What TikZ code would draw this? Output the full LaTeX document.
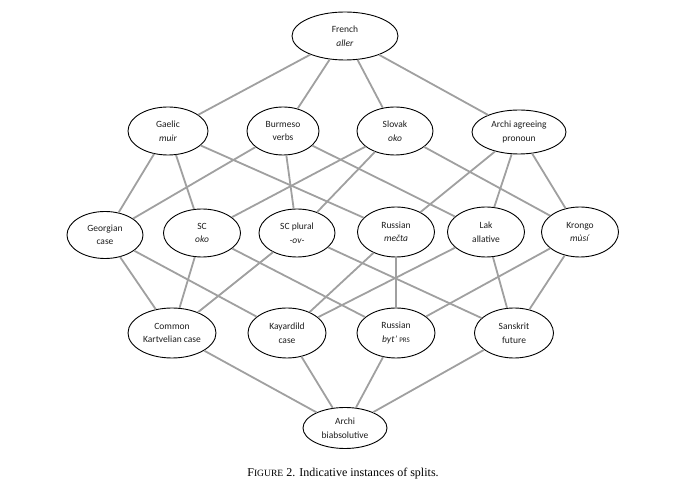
\documentclass[tikz,border=0pt]{standalone}
\usepackage{fontspec}
\setmainfont{Carlito}
\newfontfamily\capfont{Liberation Serif}
\usetikzlibrary{shapes.geometric}
\definecolor{linkgray}{RGB}{160,160,160}
\definecolor{inkc}{RGB}{30,30,30}
\begin{document}
\begin{tikzpicture}[x=1pt,y=-1pt,
  splitnode/.style={ellipse,draw=black,line width=0.9pt,fill=white,inner sep=0pt,
    align=center,font=\fontsize{9.5}{13.5}\selectfont,text=inkc},
  link/.style={draw=linkgray,line width=1.8pt},
  strong/.style={draw=linkgray,line width=2.6pt}]
\useasboundingbox (0,0) rectangle (673,494);

% top
\node[splitnode,minimum width=106pt,minimum height=48pt] (french) at (345,36) {French\\\textit{aller}};
% first level
\node[splitnode,minimum width=80pt,minimum height=48pt] (gaelic) at (168,131) {Gaelic\\\textit{muir}};
\node[splitnode,minimum width=72pt,minimum height=48pt] (burmeso) at (283,131) {Burmeso\\verbs};
\node[splitnode,minimum width=76pt,minimum height=48pt] (slovak) at (395,131) {Slovak\\\textit{oko}};
\node[splitnode,minimum width=94pt,minimum height=44pt] (archiagr) at (519,132) {Archi agreeing\\pronoun};
% second level
\node[splitnode,minimum width=76pt,minimum height=47pt] (georgian) at (105,235) {Georgian\\case};
\node[splitnode,minimum width=77pt,minimum height=48pt] (sc) at (202,233) {SC\\\textit{oko}};
\node[splitnode,minimum width=76pt,minimum height=48pt] (scpl) at (297,233) {SC plural\\\textit{-ov-}};
\node[splitnode,minimum width=77pt,minimum height=50pt] (rusmecta) at (396,232) {Russian\\\textit{mečta}};
\node[splitnode,minimum width=77pt,minimum height=50pt] (lak) at (486,232) {Lak\\allative};
\node[splitnode,minimum width=77pt,minimum height=50pt] (krongo) at (580,232) {Krongo\\\textit{mùsí}};
% third level
\node[splitnode,minimum width=88pt,minimum height=50pt] (kartvelian) at (172,333) {Common\\Kartvelian case};
\node[splitnode,minimum width=78pt,minimum height=50pt] (kayardild) at (287,333) {Kayardild\\case};
\node[splitnode,minimum width=78pt,minimum height=50pt] (rusbyt) at (396,333) {Russian\\\textit{byt’} {\fontsize{7}{9}\selectfont PRS}};
\node[splitnode,minimum width=79pt,minimum height=50pt] (sanskrit) at (514,333) {Sanskrit\\future};
% bottom
\node[splitnode,minimum width=84pt,minimum height=41pt] (archibi) at (345,428) {Archi\\biabsolutive};

% connectors
\path[link] (french) -- (gaelic);
\path[link] (french) -- (burmeso);
\path[link] (french) -- (slovak);
\path[link] (french) -- (archiagr);

\path[link] (gaelic) -- (georgian);
\path[link] (gaelic) -- (sc);
\path[link] (gaelic) -- (rusmecta);
\path[link] (burmeso) -- (georgian);
\path[link] (burmeso) -- (scpl);
\path[link] (burmeso) -- (lak);
\path[link] (slovak) -- (sc);
\path[link] (slovak) -- (scpl);
\path[link] (slovak) -- (krongo);
\path[link] (archiagr) -- (rusmecta);
\path[link] (archiagr) -- (lak);
\path[link] (archiagr) -- (krongo);

\path[link] (georgian) -- (kartvelian);
\path[link] (georgian) -- (kayardild);
\path[link] (sc) -- (kartvelian);
\path[link] (sc) -- (rusbyt);
\path[link] (scpl) -- (kartvelian);
\path[link] (scpl) -- (sanskrit);
\path[link] (rusmecta) -- (kayardild);
\path[strong] (rusmecta) -- (rusbyt);
\path[link] (lak) -- (kayardild);
\path[link] (lak) -- (sanskrit);
\path[link] (krongo) -- (rusbyt);
\path[link] (krongo) -- (sanskrit);

\path[link] (kartvelian) -- (archibi);
\path[link] (kayardild) -- (archibi);
\path[link] (rusbyt) -- (archibi);
\path[link] (sanskrit) -- (archibi);

% caption
\node[font=\capfont\fontsize{12}{14}\selectfont,text=black] (caption) at (343,474)
  {F{\fontsize{9.6}{14}\selectfont IGURE} 2. Indicative instances of splits.};
\end{tikzpicture}
\end{document}
